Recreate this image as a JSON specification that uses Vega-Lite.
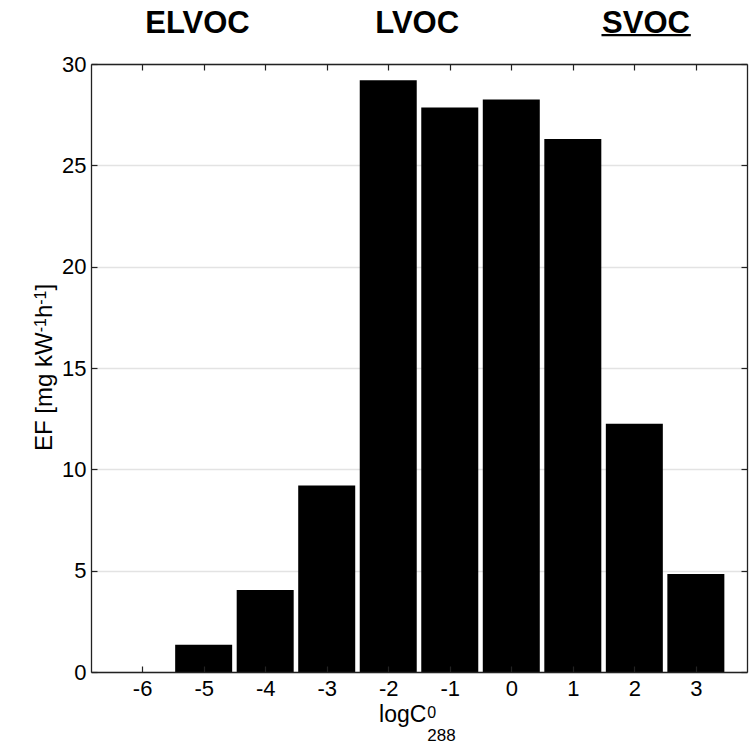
{
  "$schema": "https://vega.github.io/schema/vega-lite/v6.json",
  "width": 656,
  "height": 608,
  "autosize": {"type": "none"},
  "padding": {"left": 91, "top": 64, "right": 2, "bottom": 73},
  "background": "white",
  "config": {
    "font": "Liberation Sans",
    "view": {"stroke": null},
    "text": {"font": "Liberation Sans", "color": "black"},
    "axis": {"labelColor": "black", "titleColor": "black", "tickColor": "#222", "domainColor": "#222", "domainWidth": 1.3, "tickWidth": 1.2}
  },
  "datasets": {
    "bars": [
      {"logC": -6, "EF": 0},
      {"logC": -5, "EF": 1.35},
      {"logC": -4, "EF": 4.05},
      {"logC": -3, "EF": 9.2},
      {"logC": -2, "EF": 29.2},
      {"logC": -1, "EF": 27.85},
      {"logC": 0, "EF": 28.25},
      {"logC": 1, "EF": 26.3},
      {"logC": 2, "EF": 12.25},
      {"logC": 3, "EF": 4.83}
    ],
    "one": [{}]
  },
  "layer": [
    {
      "data": {"name": "bars"},
      "mark": {"type": "bar", "color": "black", "width": 57},
      "encoding": {
        "x": {
          "field": "logC", "type": "quantitative",
          "scale": {"domain": [-6.75, 3.75], "nice": false, "zero": false},
          "axis": {
            "orient": "bottom", "values": [-6, -5, -4, -3, -2, -1, 0, 1, 2, 3],
            "labelExpr": "toString(datum.value)",
            "title": null, "grid": false, "domain": true, "zindex": 1,
            "tickSize": -6, "labelFontSize": 22, "labelPadding": 12
          }
        },
        "y": {
          "field": "EF", "type": "quantitative",
          "scale": {"domain": [0, 30], "nice": false},
          "axis": {
            "orient": "left", "values": [0, 5, 10, 15, 20, 25, 30],
            "title": null, "grid": true, "gridColor": "#e3e3e3", "gridWidth": 1.3,
            "domain": true, "zindex": 0,
            "tickSize": -6, "labelFontSize": 22, "labelPadding": 11
          }
        }
      }
    },
    {
      "data": {"name": "bars"},
      "mark": {"type": "point", "opacity": 0},
      "encoding": {
        "x": {
          "field": "logC", "type": "quantitative",
          "axis": {"orient": "top", "values": [-6, -5, -4, -3, -2, -1, 0, 1, 2, 3], "labels": false, "title": null, "grid": false, "domain": true, "zindex": 1, "tickSize": -6}
        },
        "y": {
          "field": "EF", "type": "quantitative",
          "axis": {"orient": "right", "values": [0, 5, 10, 15, 20, 25, 30], "labels": false, "title": null, "grid": false, "domain": true, "zindex": 1, "tickSize": -6}
        }
      }
    },
    {
      "data": {"name": "one"},
      "mark": {"type": "text", "text": "ELVOC", "fontSize": 31, "fontWeight": "bold", "baseline": "alphabetic", "align": "center"},
      "encoding": {
        "x": {"datum": -5.1, "type": "quantitative", "axis": null},
        "y": {"datum": 31.54, "type": "quantitative", "axis": null}
      }
    },
    {
      "data": {"name": "one"},
      "mark": {"type": "text", "text": "LVOC", "fontSize": 31, "fontWeight": "bold", "baseline": "alphabetic", "align": "center"},
      "encoding": {
        "x": {"datum": -1.53, "type": "quantitative", "axis": null},
        "y": {"datum": 31.54, "type": "quantitative", "axis": null}
      }
    },
    {
      "data": {"name": "one"},
      "mark": {"type": "text", "text": "SVOC", "fontSize": 31, "fontWeight": "bold", "baseline": "alphabetic", "align": "center"},
      "encoding": {
        "x": {"datum": 2.19, "type": "quantitative", "axis": null},
        "y": {"datum": 31.54, "type": "quantitative", "axis": null}
      }
    },
    {
      "data": {"name": "one"},
      "mark": {"type": "rule", "color": "black", "strokeWidth": 2.2},
      "encoding": {
        "x": {"datum": 1.466, "type": "quantitative", "axis": null},
        "x2": {"datum": 2.918},
        "y": {"datum": 31.42, "type": "quantitative", "axis": null}
      }
    },
    {
      "data": {"name": "one"},
      "mark": {"type": "text", "text": "logC", "fontSize": 23, "baseline": "alphabetic", "align": "right"},
      "encoding": {
        "x": {"datum": -1.38, "type": "quantitative", "axis": null},
        "y": {"datum": -2.48, "type": "quantitative", "axis": null}
      }
    },
    {
      "data": {"name": "one"},
      "mark": {"type": "text", "text": "0", "fontSize": 16, "baseline": "alphabetic", "align": "left"},
      "encoding": {
        "x": {"datum": -1.364, "type": "quantitative", "axis": null},
        "y": {"datum": -2.254, "type": "quantitative", "axis": null}
      }
    },
    {
      "data": {"name": "one"},
      "mark": {"type": "text", "text": "288", "fontSize": 17, "baseline": "alphabetic", "align": "left"},
      "encoding": {
        "x": {"datum": -1.364, "type": "quantitative", "axis": null},
        "y": {"datum": -3.40, "type": "quantitative", "axis": null}
      }
    },
    {
      "data": {"name": "one"},
      "mark": {"type": "text", "text": "EF [mg kW", "fontSize": 24, "angle": 270, "baseline": "alphabetic", "align": "left"},
      "encoding": {
        "x": {"datum": -7.47, "type": "quantitative", "axis": null},
        "y": {"datum": 10.905, "type": "quantitative", "axis": null}
      }
    },
    {
      "data": {"name": "one"},
      "mark": {"type": "text", "text": "-1", "fontSize": 16, "angle": 270, "baseline": "alphabetic", "align": "left"},
      "encoding": {
        "x": {"datum": -7.566, "type": "quantitative", "axis": null},
        "y": {"datum": 16.762, "type": "quantitative", "axis": null}
      }
    },
    {
      "data": {"name": "one"},
      "mark": {"type": "text", "text": "h", "fontSize": 24, "angle": 270, "baseline": "alphabetic", "align": "left"},
      "encoding": {
        "x": {"datum": -7.47, "type": "quantitative", "axis": null},
        "y": {"datum": 17.462, "type": "quantitative", "axis": null}
      }
    },
    {
      "data": {"name": "one"},
      "mark": {"type": "text", "text": "-1", "fontSize": 16, "angle": 270, "baseline": "alphabetic", "align": "left"},
      "encoding": {
        "x": {"datum": -7.566, "type": "quantitative", "axis": null},
        "y": {"datum": 18.119, "type": "quantitative", "axis": null}
      }
    },
    {
      "data": {"name": "one"},
      "mark": {"type": "text", "text": "]", "fontSize": 24, "angle": 270, "baseline": "alphabetic", "align": "left"},
      "encoding": {
        "x": {"datum": -7.47, "type": "quantitative", "axis": null},
        "y": {"datum": 18.819, "type": "quantitative", "axis": null}
      }
    }
  ],
  "resolve": {"axis": {"x": "independent", "y": "independent"}}
}
